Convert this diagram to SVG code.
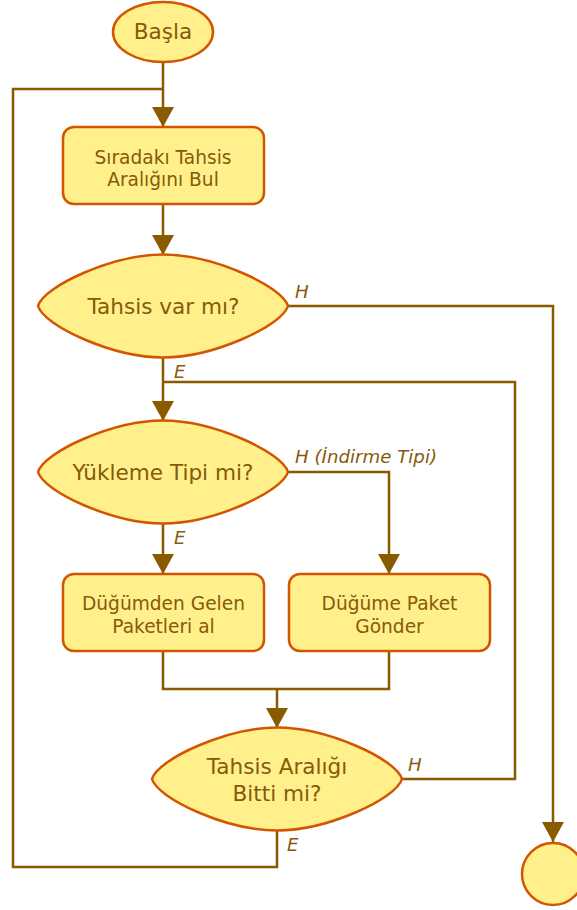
<svg xmlns="http://www.w3.org/2000/svg" xmlns:xlink="http://www.w3.org/1999/xlink" width="577" height="910" viewBox="0 0 577 910">
  <style>
    .shape { fill: #fff08c; stroke: #d45500; stroke-width: 2.5; stroke-linejoin: round; }
    .txt { font-family: "DejaVu Sans", "Liberation Sans", sans-serif; fill: #875a0a; text-anchor: middle; }
    .box { font-size: 18.6px; }
    .dec { font-size: 21.6px; }
    .lbl { font-family: "DejaVu Sans", "Liberation Sans", sans-serif; font-style: italic; font-size: 18.2px; fill: #875a0a; }
    .wire { fill: none; stroke: #8a5a00; stroke-width: 2.5; }
    .arrow { marker-end: url(#head); }
  </style>
  <defs>
    <marker id="head" viewBox="0 0 20 22" refX="20" refY="11" markerWidth="20" markerHeight="22" markerUnits="userSpaceOnUse" orient="auto">
      <path d="M0,0 L20,11 L0,22 Z" fill="#8a5a00"/>
    </marker>
    <!-- decision shape centred on the origin: convex sides, blunt side tips -->
    <path id="diamond" d="M -125,0 C -119,-20 -50,-51.5 0,-51.5 C 50,-51.5 119,-20 125,0 C 119,20 50,51.5 0,51.5 C -50,51.5 -119,20 -125,0 Z"/>
  </defs>

  <g id="connectors">
    <path class="wire arrow" d="M163,62 V127"/>
    <path class="wire arrow" d="M163,204 V255"/>
    <path class="wire arrow" d="M288,306 H553 V842"/>
    <path class="wire arrow" d="M163,357 V421"/>
    <path class="wire" d="M402,779 H515 V382 H163"/>
    <path class="wire arrow" d="M288,472 H389 V574"/>
    <path class="wire arrow" d="M163,523 V574"/>
    <path class="wire" d="M163,651 V689 H389 V651"/>
    <path class="wire arrow" d="M277,689 V728"/>
    <path class="wire" d="M277,830 V867 H13 V89 H163"/>
    <text class="lbl" x="295" y="298">H</text>
    <text class="lbl" x="174" y="378">E</text>
    <text class="lbl" x="295" y="463">H (İndirme Tipi)</text>
    <text class="lbl" x="174" y="544">E</text>
    <text class="lbl" x="408" y="770.5">H</text>
    <text class="lbl" x="287" y="850.5">E</text>
  </g>

  <g id="start">
    <ellipse class="shape" cx="163" cy="32" rx="50" ry="30"/>
    <text class="txt dec" x="163" y="38.5">Başla</text>
  </g>

  <g id="find-range">
    <rect class="shape" x="63" y="127" width="201" height="77" rx="11"/>
    <text class="txt box" x="163" y="163.5">Sıradakı Tahsis</text>
    <text class="txt box" x="163" y="186">Aralığını Bul</text>
  </g>

  <g id="has-allocation">
    <use href="#diamond" class="shape" transform="translate(163,306)"/>
    <text class="txt dec" x="163.5" y="313.5">Tahsis var mı?</text>
  </g>

  <g id="upload-type">
    <use href="#diamond" class="shape" transform="translate(163,472)"/>
    <text class="txt dec" x="163" y="480">Yükleme Tipi mi?</text>
  </g>

  <g id="receive-packets">
    <rect class="shape" x="63" y="574" width="201" height="77" rx="11"/>
    <text class="txt box" x="163.5" y="609.5">Düğümden Gelen</text>
    <text class="txt box" x="163.5" y="632.5">Paketleri al</text>
  </g>

  <g id="send-packet">
    <rect class="shape" x="289" y="574" width="201" height="77" rx="11"/>
    <text class="txt box" x="389.5" y="609.5">Düğüme Paket</text>
    <text class="txt box" x="389.5" y="632.5">Gönder</text>
  </g>

  <g id="range-done">
    <use href="#diamond" class="shape" transform="translate(277,779)"/>
    <text class="txt dec" x="277" y="773.5">Tahsis Aralığı</text>
    <text class="txt dec" x="277" y="801">Bitti mi?</text>
  </g>

  <g id="end">
    <circle class="shape" cx="553" cy="874" r="31"/>
  </g>
</svg>
